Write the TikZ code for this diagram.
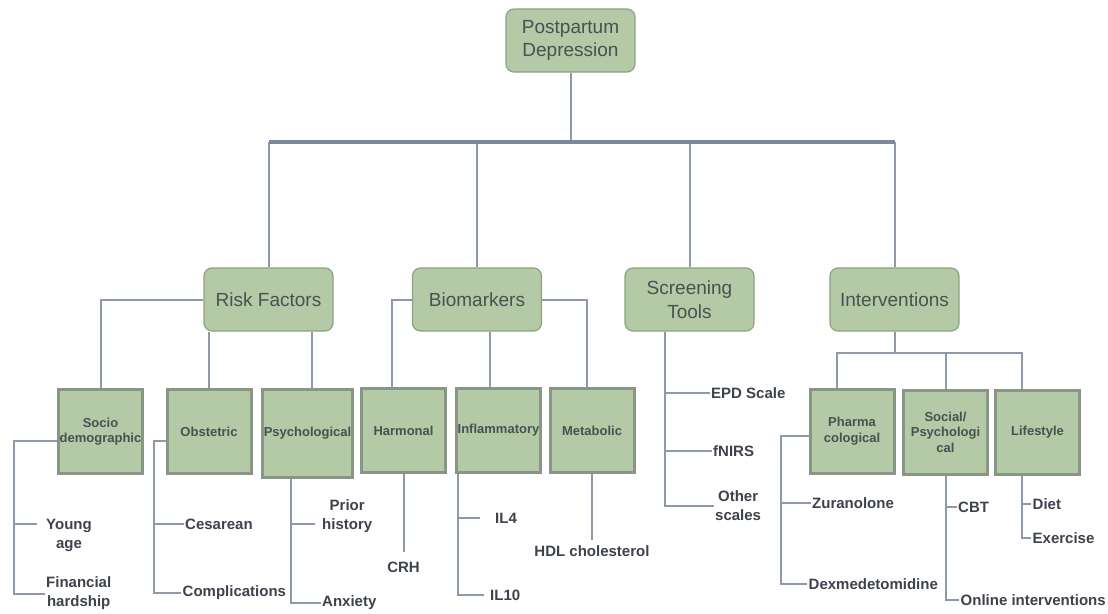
\documentclass[tikz,border=0pt]{standalone}
\usepackage{fontspec}
\setmainfont{Liberation Sans}
\usetikzlibrary{backgrounds}
\definecolor{boxg}{RGB}{180,201,166}
\definecolor{bordg}{RGB}{140,162,130}
\definecolor{bordt}{RGB}{136,150,134}
\definecolor{lnc}{RGB}{142,153,172}
\definecolor{barc}{RGB}{122,137,160}
\definecolor{txt}{RGB}{72,82,80}
\definecolor{txtb}{RGB}{62,66,76}
\tikzset{
  lvltwo/.style={draw=bordg, fill=boxg, rounded corners=8pt, line width=1.2pt,
    minimum width=129pt, minimum height=63pt, align=center,
    font=\fontsize{19}{23.5}\selectfont, text=txt},
  lvlthree/.style={draw=bordt, fill=boxg, line width=3pt, minimum width=84pt,
    minimum height=84pt, align=center, inner sep=1pt,
    font=\bfseries\fontsize{13}{15.5}\selectfont, text=txt},
  leaf/.style={anchor=west, align=center, inner sep=1.5pt,
    font=\bfseries\fontsize{15}{19}\selectfont, text=txtb},
  ln/.style={draw=lnc, line width=2pt},
  barln/.style={draw=barc, line width=3.5pt},
}
\begin{document}
\begin{tikzpicture}[x=1pt,y=-1pt]
\useasboundingbox (0,0) rectangle (1108,613);

% level 1 and 2
\node[lvltwo] (top) at (570.5,40.5) {Postpartum\\Depression};
\node[lvltwo] (rf) at (268.5,299.5) {Risk Factors};
\node[lvltwo] (bm) at (477,299.5) {Biomarkers};
\node[lvltwo] (st) at (689.5,299.5) {Screening\\Tools};
\node[lvltwo] (iv) at (894.5,299.5) {Interventions};

% level 3
\node[lvlthree] (socio) at (100.5,431.5) {Socio\\demographic};
\node[lvlthree] (obst) at (209,431.5) {Obstetric};
\node[lvlthree, minimum width=88pt, minimum height=88pt] (psych) at (307.5,433.5) {Psychological};
\node[lvlthree] (harm) at (403.5,430.5) {Harmonal};
\node[lvlthree] (infl) at (498.5,430.5) {Inflammatory};
\node[lvlthree] (metab) at (592,430.5) {Metabolic};
\node[lvlthree] (pharm) at (852,431) {Pharma\\cological};
\node[lvlthree] (social) at (945.5,432) {Social/\\Psychologi\\cal};
\node[lvlthree] (life) at (1037.5,432.5) {Lifestyle};

% leaves
\node[leaf] (young) at (44.5,535.5) {Young\\age};
\node[leaf] (fin) at (44.5,593.5) {Financial\\hardship};
\node[leaf] (ces) at (183.5,524) {Cesarean};
\node[leaf] (comp) at (181,593) {Complications};
\node[leaf] (prior) at (320.5,516) {Prior\\history};
\node[leaf] (anx) at (320.5,603) {Anxiety};
\node[leaf, anchor=center] (crh) at (403.5,567.5) {CRH};
\node[leaf] (il4) at (493.5,518) {IL4};
\node[leaf] (il10) at (488.5,595) {IL10};
\node[leaf, anchor=center] (hdl) at (592,551.5) {HDL cholesterol};
\node[leaf] (epd) at (709.5,393) {EPD Scale};
\node[leaf] (fnirs) at (711.5,451) {fNIRS};
\node[leaf] (other) at (713.5,505.5) {Other\\scales};
\node[leaf] (zur) at (810.5,503) {Zuranolone};
\node[leaf] (dex) at (807,584) {Dexmedetomidine};
\node[leaf] (cbt) at (956.5,507) {CBT};
\node[leaf] (onl) at (959,600) {Online interventions};
\node[leaf] (diet) at (1031,504) {Diet};
\node[leaf] (exe) at (1031,538) {Exercise};

\begin{scope}[on background layer]
\fill[white] (0,0) rectangle (1108,613);

% top bar
\coordinate (barL) at (268.5,142);
\coordinate (barR) at (894.5,142);
\draw[ln] (top.south) -- (top.south |- barL);
\foreach \n in {rf,bm,st,iv} \draw[ln] (\n.north) -- (\n.north |- barL);
\draw[barln] (barL) -- (barR);

% risk factors
\draw[ln] (rf.west) -| (socio.north);
\draw[ln] (obst.north) -- (obst.north |- rf.south);
\coordinate (pt) at ([xshift=4.5pt]psych.north);
\draw[ln] (pt) -- (pt |- rf.south);

% biomarkers
\coordinate (hm) at ([xshift=-11.5pt]harm.north);
\draw[ln] (bm.west) -| (hm);
\coordinate (im) at ([xshift=-8.5pt]infl.north);
\draw[ln] (im) -- (im |- bm.south);
\coordinate (mm) at ([xshift=-5pt]metab.north);
\draw[ln] (bm.east) -| (mm);

% screening tools
\coordinate (stt) at ([xshift=-24.5pt]st.south);
\draw[ln] (stt) |- (other.west);
\draw[ln] (stt |- epd.west) -- (epd.west);
\draw[ln] (stt |- fnirs.west) -- (fnirs.west);

% interventions
\coordinate (ivj) at ([yshift=-21pt]iv.south);
\coordinate (pj) at ([xshift=-15pt]pharm.north);
\coordinate (lj) at ([xshift=-15.5pt]life.north);
\draw[ln] (iv.south) -- (ivj);
\draw[ln] (pj) |- (ivj) -| (lj);
\draw[ln] (social.north) -- (social.north |- ivj);

% socio demographic
\coordinate (sT) at (14,441);
\coordinate (yb) at (14,524);
\draw[ln] ([yshift=-9.5pt]socio.west) -- (sT) |- (fin.west);
\draw[ln] (yb) -- ([xshift=-7.5pt,yshift=11.5pt]young.west);

% obstetric
\coordinate (oT) at (154,441);
\draw[ln] ([yshift=-9.5pt]obst.west) -- (oT) |- (comp.west);
\draw[ln] (oT |- ces.west) -- (ces.west);

% psychological
\coordinate (pT) at ([xshift=-16.5pt]psych.south);
\coordinate (pr) at ([xshift=-5.5pt,yshift=-8pt]prior.west);
\draw[ln] (pT) |- (anx.west);
\draw[ln] (pT |- pr) -- (pr);

% harmonal, inflammatory, metabolic
\draw[ln] (harm.south) -- ([yshift=8.5pt]crh.north);
\coordinate (iT) at ([xshift=-40.5pt]infl.south);
\draw[ln] (iT) |- ([xshift=-4.5pt]il10.west);
\draw[ln] (iT |- il4.west) -- ([xshift=-13.5pt]il4.west);
\draw[ln] (metab.south) -- ([yshift=4.5pt]hdl.north);

% pharmacological
\coordinate (phT) at (781,436);
\draw[ln] ([yshift=-5pt]pharm.west) -- (phT) |- (dex.west);
\draw[ln] (phT |- zur.west) -- (zur.west);

% social / psychological
\coordinate (soT) at ([xshift=0.5pt]social.south);
\draw[ln] (soT) |- (onl.west);
\draw[ln] (soT |- cbt.west) -- (cbt.west);

% lifestyle
\coordinate (lT) at ([xshift=-15.5pt]life.south);
\draw[ln] (lT) |- (exe.west);
\draw[ln] (lT |- diet.west) -- (diet.west);
\end{scope}
\end{tikzpicture}
\end{document}
